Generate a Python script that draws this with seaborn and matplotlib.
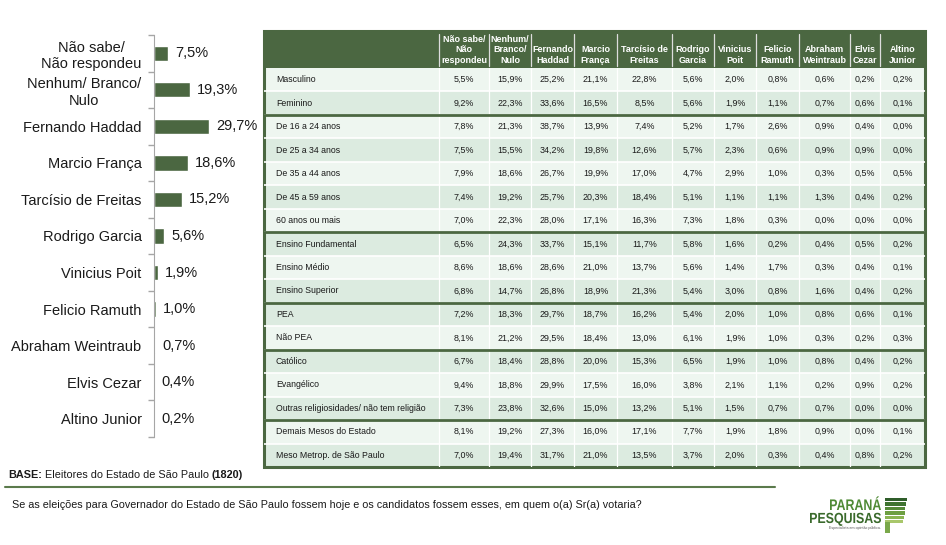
import numpy as np
import matplotlib.pyplot as plt
import seaborn as sns
from matplotlib.patches import Rectangle, PathPatch
from matplotlib.lines import Line2D
from matplotlib.textpath import TextPath
from matplotlib.font_manager import FontProperties
from matplotlib.transforms import Affine2D

# intenção de voto - total
candidates = ["Não sabe/\nNão respondeu", "Nenhum/ Branco/\nNulo", "Fernando Haddad",
              "Marcio França", "Tarcísio de Freitas", "Rodrigo Garcia", "Vinicius Poit",
              "Felicio Ramuth", "Abraham Weintraub", "Elvis Cezar", "Altino Junior"]
total = [7.5, 19.3, 29.7, 18.6, 15.2, 5.6, 1.9, 1.0, 0.7, 0.4, 0.2]

# tabela por segmento
col_headers = ["Não sabe/\nNão\nrespondeu", "Nenhum/\nBranco/\nNulo", "Fernando\nHaddad",
               "Marcio\nFrança", "Tarcísio de\nFreitas", "Rodrigo\nGarcia", "Vinicius\nPoit",
               "Felicio\nRamuth", "Abraham\nWeintraub", "Elvis\nCezar", "Altino\nJunior"]
row_labels = ["Masculino", "Feminino", "De 16 a 24 anos", "De 25 a 34 anos", "De 35 a 44 anos",
              "De 45 a 59 anos", "60 anos ou mais", "Ensino Fundamental", "Ensino Médio",
              "Ensino Superior", "PEA", "Não PEA", "Católico", "Evangélico",
              "Outras religiosidades/ não tem religião", "Demais Mesos do Estado",
              "Meso Metrop. de São Paulo"]
masculino = [5.5, 15.9, 25.2, 21.1, 22.8, 5.6, 2.0, 0.8, 0.6, 0.2, 0.2]
feminino = [9.2, 22.3, 33.6, 16.5, 8.5, 5.6, 1.9, 1.1, 0.7, 0.6, 0.1]
idade_16_24 = [7.8, 21.3, 38.7, 13.9, 7.4, 5.2, 1.7, 2.6, 0.9, 0.4, 0.0]
idade_25_34 = [7.5, 15.5, 34.2, 19.8, 12.6, 5.7, 2.3, 0.6, 0.9, 0.9, 0.0]
idade_35_44 = [7.9, 18.6, 26.7, 19.9, 17.0, 4.7, 2.9, 1.0, 0.3, 0.5, 0.5]
idade_45_59 = [7.4, 19.2, 25.7, 20.3, 18.4, 5.1, 1.1, 1.1, 1.3, 0.4, 0.2]
idade_60 = [7.0, 22.3, 28.0, 17.1, 16.3, 7.3, 1.8, 0.3, 0.0, 0.0, 0.0]
ens_fundamental = [6.5, 24.3, 33.7, 15.1, 11.7, 5.8, 1.6, 0.2, 0.4, 0.5, 0.2]
ens_medio = [8.6, 18.6, 28.6, 21.0, 13.7, 5.6, 1.4, 1.7, 0.3, 0.4, 0.1]
ens_superior = [6.8, 14.7, 26.8, 18.9, 21.3, 5.4, 3.0, 0.8, 1.6, 0.4, 0.2]
pea = [7.2, 18.3, 29.7, 18.7, 16.2, 5.4, 2.0, 1.0, 0.8, 0.6, 0.1]
nao_pea = [8.1, 21.2, 29.5, 18.4, 13.0, 6.1, 1.9, 1.0, 0.3, 0.2, 0.3]
catolico = [6.7, 18.4, 28.8, 20.0, 15.3, 6.5, 1.9, 1.0, 0.8, 0.4, 0.2]
evangelico = [9.4, 18.8, 29.9, 17.5, 16.0, 3.8, 2.1, 1.1, 0.2, 0.9, 0.2]
outras_rel = [7.3, 23.8, 32.6, 15.0, 13.2, 5.1, 1.5, 0.7, 0.7, 0.0, 0.0]
demais_mesos = [8.1, 19.2, 27.3, 16.0, 17.1, 7.7, 1.9, 1.8, 0.9, 0.0, 0.1]
meso_metrop = [7.0, 19.4, 31.7, 21.0, 13.5, 3.7, 2.0, 0.3, 0.4, 0.8, 0.2]
table_rows = [masculino, feminino, idade_16_24, idade_25_34, idade_35_44, idade_45_59, idade_60,
              ens_fundamental, ens_medio, ens_superior, pea, nao_pea, catolico, evangelico,
              outras_rel, demais_mesos, meso_metrop]
section_breaks = [2, 7, 10, 12, 15]
shade = "LDLDLDLDLDDLDLDLD"

W, H = 946, 545
GREEN = "#4b6741"
LIGHT = "#eef6f0"
DARK = "#dcebe0"
TXT = "#1a1a1a"

def fmt(v):
    return f"{v:.1f}%".replace(".", ",")

sns.set_style("white")
plt.rcParams['font.family'] = ['Liberation Sans', 'DejaVu Sans']

fig = plt.figure(figsize=(W / 100, H / 100), dpi=100)

def px_axes(x0, y0, x1, y1):
    return fig.add_axes([x0 / W, 1 - y1 / H, (x1 - x0) / W, (y1 - y0) / H])

## 1. barras do total
ax = px_axes(154, 35, 228, 437)
sns.barplot(x=total, y=candidates, orient="h", color=GREEN, width=0.42, saturation=1, ax=ax)
ax.set_xlim(0, 40)
ax.set_ylim(len(candidates) - 0.5, -0.5)
ax.set_xlabel("")
ax.set_ylabel("")
ax.set_xticks([])
for s in ["top", "right", "bottom"]:
    ax.spines[s].set_visible(False)
ax.spines["left"].set_color("#a6a6a6")
ax.set_yticks(np.arange(-0.5, len(candidates)), minor=True)
ax.tick_params(axis="y", which="major", length=0, pad=9, labelsize=10.5, labelcolor=TXT)
ax.tick_params(axis="y", which="minor", length=4, color="#a6a6a6", width=1, left=True)
for lbl in ax.get_yticklabels():
    lbl.set_multialignment("center")
for i, v in enumerate(total):
    ax.annotate(fmt(v), xy=(v, i), xytext=(5, 0), textcoords="offset points",
                va="center", ha="left", fontsize=10.5, color=TXT, annotation_clip=False)

## 2. tabela
x0, x1, y0, y1 = 264, 925, 31, 467
ax_t = px_axes(x0, y0, x1, y1)
ax_t.set_xlim(x0, x1)
ax_t.set_ylim(y1, y0)
ax_t.axis("off")
col_edges = [264, 439, 489, 531, 574, 617, 672, 714, 756, 799, 850, 880, 925]
head_bottom = 68
row_h = (y1 - head_bottom) / len(row_labels)

ax_t.add_patch(Rectangle((x0, y0), x1 - x0, head_bottom - y0, color=GREEN, lw=0))
for j, h in enumerate(col_headers):
    xc = (col_edges[j + 1] + col_edges[j + 2]) / 2
    ax_t.text(xc, 65, h, ha="center", va="bottom", fontsize=6.5, color="white",
              weight="bold", linespacing=1.25)
for xe in col_edges[1:-1]:
    ax_t.plot([xe, xe], [34, 66], color="#dddddd", lw=0.9)

for i, (lab, vals, sh) in enumerate(zip(row_labels, table_rows, shade)):
    yt = head_bottom + i * row_h
    ax_t.add_patch(Rectangle((x0, yt), x1 - x0, row_h, color=LIGHT if sh == "L" else DARK, lw=0))
    ax_t.text(276, yt + row_h / 2, lab, ha="left", va="center", fontsize=6.3, color=TXT)
    for j, v in enumerate(vals):
        xc = (col_edges[j + 1] + col_edges[j + 2]) / 2
        ax_t.text(xc, yt + row_h / 2, fmt(v), ha="center", va="center", fontsize=6.4, color=TXT)
    if i > 0:
        ax_t.plot([x0, x1], [yt, yt], color="white", lw=1.2)
for xe in col_edges[1:-1]:
    ax_t.plot([xe, xe], [head_bottom, y1], color="white", lw=0.9)
for b in section_breaks:
    yb = head_bottom + b * row_h
    ax_t.plot([x0, x1], [yb, yb], color=GREEN, lw=2)
ax_t.add_patch(Rectangle((x0, y0), x1 - x0, y1 - y0, fill=False, edgecolor=GREEN, lw=2.2,
                         clip_on=False))

## 3. rodapé
fig.canvas.draw()
rend = fig.canvas.get_renderer()
xpos = 8
for part, wt in [("BASE:", "bold"), (" Eleitores do Estado de São Paulo ", "normal"), ("(1820)", "bold")]:
    t = fig.text(xpos / W, 1 - 478 / H, part, fontsize=7.8, weight=wt, color=TXT,
                 va="baseline", ha="left")
    xpos += t.get_window_extent(renderer=rend).width
fig.add_artist(Line2D([5 / W, 775 / W], [1 - 487 / H] * 2, color="#5b7a4c", lw=1.5))
fig.text(12 / W, 1 - 505 / H,
         "Se as eleições para Governador do Estado de São Paulo fossem hoje e os candidatos "
         "fossem esses, em quem o(a) Sr(a) votaria?",
         fontsize=7.75, color=TXT, va="center", ha="left")

# logo
ax_l = px_axes(800, 490, 920, 540)
ax_l.set_xlim(800, 920)
ax_l.set_ylim(540, 490)
ax_l.axis("off")
bold = FontProperties(family="Liberation Sans", weight="bold")

def logo_word(word, x_right, baseline, width, cap, color):
    tp = TextPath((0, 0), word, size=10, prop=bold)
    ext = tp.get_extents()
    sx = width / ext.width
    sy = cap / 7.16
    tr = Affine2D().translate(-ext.x0, 0).scale(sx, -sy).translate(x_right - width, baseline)
    ax_l.add_patch(PathPatch(tr.transform_path(tp), color=color, lw=0))

logo_word("PARANÁ", 881, 510, 51, 11, "#4f8a35")
logo_word("PESQUISAS", 881, 523, 71, 10.5, "#3a6a2c")
ax_l.text(881, 528.5, "Especialista em opinião pública.", ha="right", va="center", fontsize=2.6,
          color="#555555")
stripe_cols = ["#2f5d2a", "#3f7330", "#558a38", "#6d9f42", "#8bb552", "#a9c76b"]
for k, c in enumerate(stripe_cols):
    ax_l.add_patch(Rectangle((885, 498 + k * 4.4), 22 - k * 0.8, 3.4, color=c, lw=0))
ax_l.add_patch(Rectangle((885, 522), 5, 11, color="#7aa84a", lw=0))

fig.savefig("out.png", dpi=100)
